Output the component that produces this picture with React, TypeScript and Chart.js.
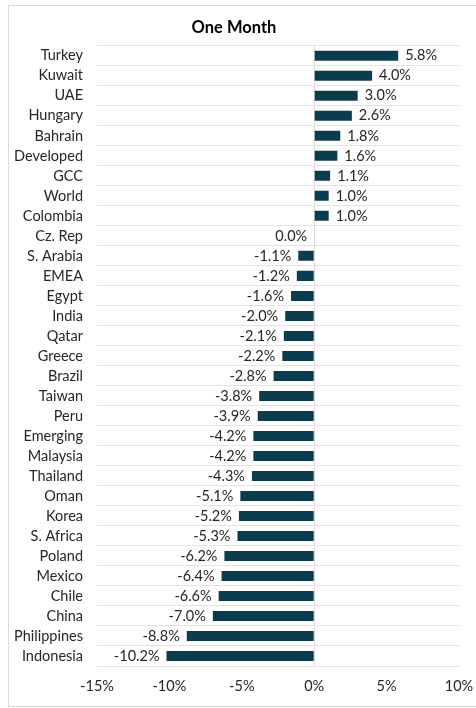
import React, { useEffect, useRef } from "react";
import { Chart, registerables } from "chart.js";
Chart.register(...registerables);

const categories = ["Turkey","Kuwait","UAE","Hungary","Bahrain","Developed","GCC","World","Colombia","Cz. Rep","S. Arabia","EMEA","Egypt","India","Qatar","Greece","Brazil","Taiwan","Peru","Emerging","Malaysia","Thailand","Oman","Korea","S. Africa","Poland","Mexico","Chile","China","Philippines","Indonesia"];
const values = [5.8,4.0,3.0,2.6,1.8,1.6,1.1,1.0,1.0,0.0,-1.1,-1.2,-1.6,-2.0,-2.1,-2.2,-2.8,-3.8,-3.9,-4.2,-4.2,-4.3,-5.1,-5.2,-5.3,-6.2,-6.4,-6.6,-7.0,-8.8,-10.2];
const xTicks = [-15,-10,-5,0,5,10];
const title = "One Month";

const FONT = "Lato, 'Open Sans', sans-serif";
const BAR = "#0c3d4d";
const TEXT = "#262626";
const FS = 14.5;

const labelPlugin = {
  id: "valueLabels",
  afterDatasetsDraw(chart: any) {
    const ctx = chart.ctx;
    const meta = chart.getDatasetMeta(0);
    ctx.save();
    ctx.font = `${FS}px ${FONT}`;
    ctx.fillStyle = TEXT;
    ctx.textBaseline = "middle";
    meta.data.forEach((el: any, i: number) => {
      const v = values[i];
      const txt = v.toFixed(1) + "%";
      if (v > 0) {
        ctx.textAlign = "left";
        ctx.fillText(txt, el.x + 7, el.y);
      } else {
        ctx.textAlign = "right";
        ctx.fillText(txt, el.x - 7, el.y);
      }
    });
    ctx.restore();
  },
};

export default function App() {
  const ref = useRef<HTMLCanvasElement>(null);
  useEffect(() => {
    const chart = new Chart(ref.current!, {
      type: "bar",
      data: {
        labels: categories,
        datasets: [{ data: values, backgroundColor: BAR, barPercentage: 0.5, categoryPercentage: 1 }],
      },
      options: {
        indexAxis: "y",
        animation: false,
        responsive: false,
        maintainAspectRatio: false,
        layout: { padding: { left: 0, right: 17, top: 0, bottom: 0 } },
        plugins: {
          legend: { display: false },
          tooltip: { enabled: false },
          title: {
            display: true,
            text: title,
            color: "#000",
            font: { family: FONT, size: 16.5, weight: "bold" },
            padding: { top: 12, bottom: 8 },
          },
        },
        scales: {
          x: {
            min: -15,
            max: 10,
            afterBuildTicks: (s: any) => { s.ticks = xTicks.map((v) => ({ value: v })); },
            afterFit: (s: any) => { s.height = 40; s.paddingRight = 0; s.paddingLeft = 0; },
            ticks: {
              padding: 12,
              color: TEXT,
              maxRotation: 0,
              font: { family: FONT, size: FS },
              callback: (v: any) => v + "%",
            },
            grid: {
              drawTicks: false,
              color: (c: any) => (c.tick && c.tick.value === 0 ? "#d9d9d9" : "rgba(0,0,0,0)"),
            },
            border: { display: false },
          },
          y: {
            afterFit: (s: any) => { s.width = 88; },
            ticks: {
              padding: 14,
              color: TEXT,
              font: { family: FONT, size: FS },
              autoSkip: false,
            },
            grid: { drawTicks: false, color: "#e3e3e3", offset: true },
            border: { display: false },
          },
        },
      },
      plugins: [labelPlugin],
    } as any);
    return () => chart.destroy();
  }, []);
  return (
    <div style={{ position: "absolute", left: 8, top: 5, width: 468, height: 702, borderTop: "1px solid #d9d9d9", borderLeft: "1px solid #d9d9d9", borderBottom: "1px solid #d9d9d9", boxSizing: "border-box", background: "#fff", overflow: "hidden" }}>
      <canvas ref={ref} width={467} height={700} style={{ display: "block" }} />
    </div>
  );
}
